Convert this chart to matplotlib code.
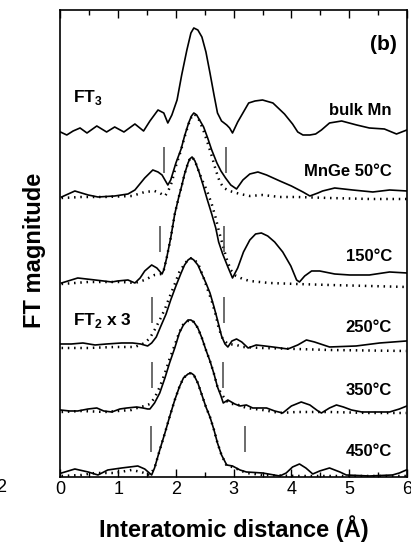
import numpy as np
import matplotlib.pyplot as plt
from matplotlib.ticker import MultipleLocator

plt.rcParams['font.family'] = 'Liberation Sans'
plt.rcParams['mathtext.fontset'] = 'custom'
plt.rcParams['mathtext.rm'] = 'Liberation Sans'
plt.rcParams['mathtext.bf'] = 'Liberation Sans:bold'

# FT magnitudes (arb. units) vs interatomic distance (A)
# solid = FT3, dotted = FT2 x 3
r_bulk = [0.00, 0.11, 0.22, 0.34, 0.46, 0.63, 0.80, 0.94, 1.10, 1.29, 1.44, 1.55, 1.69, 1.79, 1.86,
          1.93, 2.02, 2.10, 2.19, 2.26, 2.31, 2.38, 2.45, 2.52, 2.59, 2.66, 2.72, 2.79, 2.88, 2.93,
          2.98, 3.07, 3.16, 3.26, 3.37, 3.50, 3.68, 3.88, 4.02, 4.11, 4.20, 4.32, 4.42, 4.52, 4.66,
          4.87, 5.13, 5.35, 5.61, 5.82, 5.91, 6.00]
ft3_bulk = [1, -2, 2, 5, 0, 7, 1, 6, 1, 9, 2, 12, 23, 20, 10, 18, 33, 58, 83, 100, 105, 103, 96, 81,
            60, 38, 20, 12, 8, 5, 0, 11, 20, 30, 32, 33, 30, 19, 9, 1, -2, -2, -1, 3, 10, 12, 8, 5,
            4, -1, 1, 3]

r_50 = [0.02, 0.25, 0.48, 0.65, 0.94, 1.17, 1.29, 1.46, 1.60, 1.69, 1.76, 1.86, 1.91, 2.00, 2.09,
        2.15, 2.22, 2.27, 2.31, 2.36, 2.41, 2.48, 2.55, 2.62, 2.71, 2.78, 2.86, 2.95, 3.05, 3.16,
        3.28, 3.42, 3.57, 3.80, 4.00, 4.20, 4.32, 4.46, 4.54, 4.75, 5.06, 5.41, 5.70, 6.00]
ft3_50 = [0, 6, 2, 0, 1, 3, 7, 19, 27, 25, 22, 12, 17, 34, 48, 61, 74, 81, 84, 82, 77, 70, 59, 47,
          34, 26, 19, 12, 8, 17, 23, 25, 22, 16, 11, 5, 1, 4, 6, 9, 7, 5, 7, 6]
r2_50 = [0.02, 0.37, 0.77, 1.24, 1.46, 1.63, 1.72, 1.81, 1.86, 1.93, 2.00, 2.09, 2.15, 2.22, 2.27,
         2.31, 2.36, 2.41, 2.48, 2.55, 2.62, 2.69, 2.76, 2.83, 2.93, 3.11, 3.28, 3.50, 3.80, 4.09,
         4.66, 5.35, 6.00]
ft2_50 = [-1, 0, 0, 1, 5, 6, 4, 1, 5, 15, 31, 47, 60, 73, 80, 83, 81, 76, 66, 54, 41, 27, 15, 9, 6,
          3, 1, 2, 0, 0, -1, -2, -2]

r_150 = [0.02, 0.30, 0.60, 0.89, 0.99, 1.17, 1.29, 1.38, 1.46, 1.58, 1.67, 1.76, 1.79, 1.84, 1.91,
         1.98, 2.05, 2.10, 2.15, 2.21, 2.24, 2.28, 2.33, 2.40, 2.47, 2.54, 2.62, 2.69, 2.74, 2.81,
         2.90, 2.98, 3.07, 3.17, 3.28, 3.38, 3.48, 3.59, 3.71, 3.85, 3.99, 4.09, 4.14, 4.23, 4.35,
         4.49, 4.75, 5.01, 5.35, 5.70, 6.00]
ft3_150 = [0, 5, 3, 1, 2, 3, 0, 5, 12, 18, 15, 9, 13, 25, 45, 69, 86, 97, 109, 120, 124, 126, 122,
           111, 98, 84, 69, 55, 41, 29, 16, 5, 15, 31, 43, 49, 50, 47, 41, 31, 17, 3, 1, 7, 12, 12,
           9, 8, 8, 11, 10]
r2_150 = [0.02, 0.48, 1.06, 1.29, 1.46, 1.63, 1.75, 1.79, 1.84, 1.91, 1.98, 2.05, 2.10, 2.15, 2.21,
          2.24, 2.28, 2.33, 2.40, 2.47, 2.54, 2.62, 2.69, 2.74, 2.81, 2.88, 2.95, 3.04, 3.16, 3.28,
          3.62, 4.09, 4.66, 5.35, 6.00]
ft2_150 = [-1, 1, 1, 0, 3, 8, 9, 13, 25, 45, 69, 86, 97, 109, 120, 124, 126, 122, 111, 101, 92, 79,
           65, 53, 38, 24, 13, 7, 4, 2, 0, -1, -2, -3, -4]

r_250 = [0.00, 0.19, 0.39, 0.60, 0.80, 1.06, 1.25, 1.39, 1.51, 1.58, 1.66, 1.74, 1.83, 1.91, 2.00,
         2.09, 2.15, 2.21, 2.26, 2.31, 2.38, 2.45, 2.52, 2.59, 2.66, 2.72, 2.79, 2.85, 2.90, 2.97,
         3.05, 3.14, 3.25, 3.39, 3.54, 3.68, 3.94, 4.11, 4.26, 4.40, 4.66, 5.12, 5.53, 5.99]
ft3_250 = [3, 3, 4, 2, 3, 4, 4, 3, 1, 4, 10, 21, 33, 47, 61, 74, 82, 87, 89, 87, 82, 73, 64, 54, 40,
           27, 11, 3, 0, 6, 8, 5, -1, 2, 1, 0, -2, 2, 7, 5, 0, 1, 4, 6]
r2_250 = [0.02, 0.48, 0.94, 1.29, 1.46, 1.55, 1.63, 1.72, 1.81, 1.89, 1.98, 2.06, 2.15, 2.22, 2.28,
          2.33, 2.40, 2.47, 2.54, 2.62, 2.69, 2.74, 2.81, 2.90, 3.05, 3.16, 3.50, 4.09, 4.66, 5.99]
ft2_250 = [-1, -1, 0, 0, 4, 9, 17, 27, 38, 50, 63, 75, 83, 88, 89, 87, 81, 71, 59, 46, 32, 19, 8, 3,
           2, 0, -1, -2, -3, -4]

r_350 = [0.00, 0.16, 0.30, 0.48, 0.63, 0.75, 0.89, 1.03, 1.15, 1.32, 1.43, 1.51, 1.55, 1.63, 1.72,
         1.81, 1.89, 1.98, 2.06, 2.13, 2.21, 2.26, 2.31, 2.38, 2.45, 2.52, 2.59, 2.66, 2.72, 2.78,
         2.82, 2.90, 3.02, 3.11, 3.22, 3.33, 3.45, 3.57, 3.71, 3.85, 4.00, 4.17, 4.32, 4.46, 4.52,
         4.66, 4.78, 4.90, 5.04, 5.22, 5.41, 5.70, 5.87, 6.00]
ft3_350 = [1, 0, 0, 2, 3, 0, -1, 2, 3, 4, 3, 2, 2, 8, 18, 33, 48, 63, 78, 86, 91, 91, 89, 83, 73,
           61, 50, 37, 24, 15, 8, 11, 7, 5, 6, 3, 3, 3, 0, -2, 5, 9, 6, 0, -2, 3, 6, 4, 1, -1, -1,
           -1, 2, 5]
r2_350 = [0.02, 0.37, 0.77, 1.23, 1.38, 1.46, 1.55, 1.63, 1.72, 1.81, 1.89, 1.98, 2.06, 2.13, 2.21,
          2.26, 2.31, 2.38, 2.45, 2.52, 2.59, 2.66, 2.72, 2.78, 2.85, 2.93, 3.04, 3.22, 3.50, 3.80,
          4.09, 4.66, 5.35, 5.99]
ft2_350 = [-1, 0, -1, 1, 4, 5, 7, 13, 24, 38, 52, 66, 79, 87, 90, 91, 89, 83, 73, 61, 50, 37, 24,
           18, 12, 7, 7, 3, 1, -2, -1, -1, -2, -2]

r_450 = [0.02, 0.25, 0.48, 0.65, 0.82, 1.06, 1.20, 1.34, 1.46, 1.58, 1.63, 1.72, 1.81, 1.89, 1.98,
         2.06, 2.13, 2.21, 2.26, 2.31, 2.38, 2.45, 2.52, 2.59, 2.66, 2.72, 2.79, 2.88, 2.98, 3.11,
         3.22, 3.50, 3.80, 3.91, 4.02, 4.14, 4.25, 4.37, 4.49, 4.66, 4.84, 4.95, 5.35, 5.75, 5.87,
         5.99]
ft3_450 = [3, 7, 4, 1, 6, 8, 9, 10, 7, 1, 8, 26, 43, 59, 76, 89, 98, 102, 103, 101, 93, 81, 69, 59,
           46, 33, 21, 11, 10, 6, 4, 3, 0, 3, 9, 12, 8, 2, 5, 8, 4, 1, 0, 1, 3, 6]
r2_450 = [0.02, 0.37, 0.60, 0.94, 1.23, 1.40, 1.55, 1.63, 1.72, 1.81, 1.89, 1.98, 2.06, 2.13, 2.21,
          2.26, 2.31, 2.38, 2.45, 2.52, 2.59, 2.66, 2.72, 2.79, 2.88, 2.98, 3.22, 3.50, 4.09, 4.66,
          5.99]
ft2_450 = [0, 1, 3, 3, 6, 4, 1, 8, 26, 43, 59, 76, 89, 98, 102, 103, 101, 93, 81, 69, 59, 46, 33,
           21, 10, 9, 3, 1, 0, 0, 0]

labels = ['bulk Mn', 'MnGe 50°C', '150°C', '250°C', '350°C', '450°C']
# fitting window limits (A) for each annealed sample
windows = [None, [1.80, 2.87], [1.73, 2.83], [1.59, 2.83], [1.58, 2.82], [1.57, 3.20]]

solid = [(r_bulk, ft3_bulk), (r_50, ft3_50), (r_150, ft3_150),
         (r_250, ft3_250), (r_350, ft3_350), (r_450, ft3_450)]
dotted = [None, (r2_50, ft2_50), (r2_150, ft2_150),
          (r2_250, ft2_250), (r2_350, ft2_350), (r2_450, ft2_450)]

# vertical stacking of the curves
offsets = [344, 280, 194, 130, 66, 1]
label_dy = [22, 25, 26, 19, 20, 24]
win_lo = [0, 24, 31, 24, 23, 24]

fig = plt.figure(figsize=(4.11, 5.46), dpi=100)
ax = fig.add_axes([0.147, 0.1264, 0.843, 0.8553])

for i in range(len(labels)):
    off = offsets[i]
    r, m = solid[i]
    ax.plot(r, np.array(m) + off, color='black', lw=1.2, zorder=3,
            solid_joinstyle='round')
    if dotted[i] is not None:
        r2, m2 = dotted[i]
        ax.plot(r2, np.array(m2) + off, color='black', lw=1.8,
                linestyle=(0, (0.6, 1.9)), zorder=2)
    if windows[i] is not None:
        ax.vlines(windows[i], off + win_lo[i], off + win_lo[i] + 26,
                  color='#444444', lw=1.1)
    ax.text(5.74, off + label_dy[i], labels[i], ha='right', va='center',
            fontsize=12, fontweight='bold')

ax.text(0.21, 375, r'FT$_\mathbf{3}$', fontsize=12.5, fontweight='bold', va='baseline')
ax.text(0.21, 152, r'FT$_\mathbf{2}$ x 3', fontsize=12.5, fontweight='bold', va='baseline')
ax.text(5.82, 432, '(b)', ha='right', va='center', fontsize=15, fontweight='bold')

ax.set_xlim(0, 6)
ax.set_ylim(0, 467)
ax.xaxis.set_major_locator(MultipleLocator(1))
ax.xaxis.set_minor_locator(MultipleLocator(0.5))
ax.set_yticks([])
ax.tick_params(axis='x', which='both', direction='in', top=True, width=1.0,
               labelsize=13, pad=3)
ax.tick_params(axis='x', which='major', length=5.5)
ax.tick_params(axis='x', which='minor', length=3.5)
for sp in ax.spines.values():
    sp.set_linewidth(1.2)

ax.set_xlabel('Interatomic distance (Å)', fontsize=17, fontweight='bold', labelpad=12)
fig.text(0.083, 0.542, 'FT magnitude', rotation=90, ha='center', va='center',
         fontsize=17, fontweight='bold')
# tick label of the neighbouring panel, cut by the figure edge
fig.text(-0.01, 0.108, '2', fontsize=13, ha='left', va='center')

fig.savefig('out.png', dpi=100)
